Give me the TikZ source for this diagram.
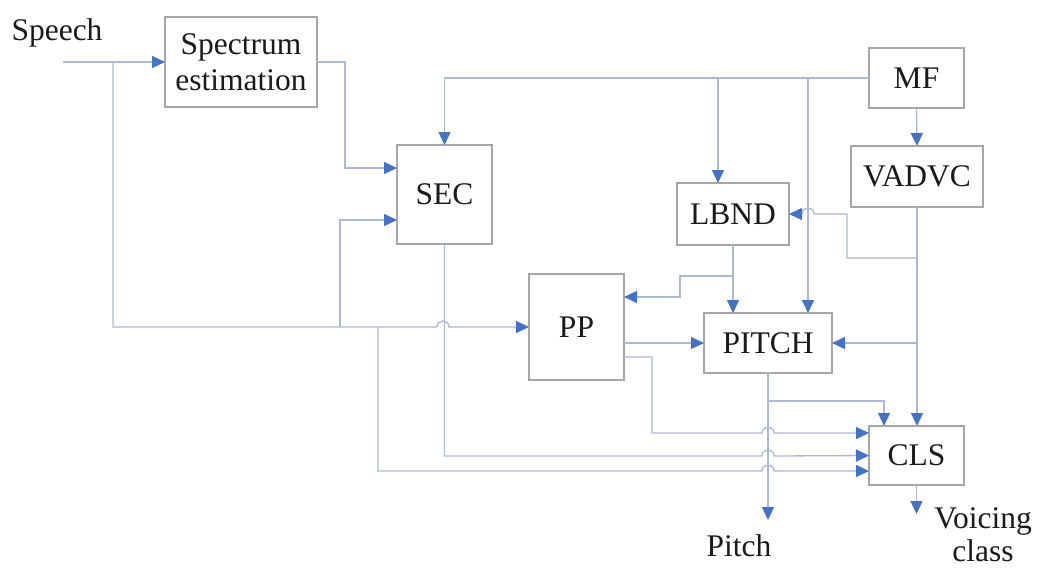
\documentclass[tikz,border=0pt]{standalone}
\usepackage{fontspec}
\setmainfont{Liberation Serif}
\usetikzlibrary{arrows.meta}
\definecolor{linecol}{HTML}{AEB8D2}
\definecolor{arrowblue}{HTML}{4472C4}
\definecolor{boxgray}{HTML}{A6A6A6}
\definecolor{txt}{HTML}{1A1A1A}
\newcommand{\fsz}{\fontsize{31.5}{36}\selectfont}
\newcommand{\fszt}{\fontsize{31.5}{33}\selectfont}
\tikzset{
  blk/.style={draw=boxgray, line width=1.4pt, fill=white, inner sep=0pt, outer sep=0pt, align=center, font=\fsz, text=txt},
  lbl/.style={inner sep=0pt, font=\fsz, text=txt},
  ln/.style={draw=linecol, line width=1.3pt},
  arr/.style={ln, -{Triangle[length=13pt,width=12pt,color=arrowblue]}},
}
\begin{document}
\begin{tikzpicture}[x=1pt,y=-1pt]
\useasboundingbox[fill=white] (0,0) rectangle (1038,568);
% blocks
\node[blk, minimum width=152pt, minimum height=90pt] (spec) at (241,62) {Spectrum\\estimation};
\node[blk, minimum width=95pt, minimum height=99pt] (SEC) at (444.5,194.5) {SEC};
\node[blk, minimum width=95pt, minimum height=60pt] (MF) at (916.5,78) {MF};
\node[blk, minimum width=132pt, minimum height=61pt] (VADVC) at (917,176.5) {VADVC};
\node[blk, minimum width=112pt, minimum height=62pt] (LBND) at (733,214) {LBND};
\node[blk, minimum width=95pt, minimum height=106pt] (PP) at (576.5,327) {PP};
\node[blk, minimum width=128pt, minimum height=60pt] (PITCH) at (768,343) {PITCH};
\node[blk, minimum width=95pt, minimum height=59pt] (CLS) at (916.5,455.5) {CLS};
% labels
\node[lbl] (speech) at (57,33) {Speech};
\node[lbl] (pitchlbl) at (739,546) {Pitch};
\node[lbl, align=center, font=\fszt] (vclbl) at (983,535) {Voicing\\class};
% junctions and free ends
\coordinate (sp) at (63,62);
\coordinate (j1) at (113,62);
\coordinate (j2) at (340,327);
\coordinate (j3) at (378,327);
\coordinate (j4) at (718,78);
\coordinate (j5) at (808,78);
\coordinate (j6) at (917,258);
\coordinate (j7) at (917,343);
\coordinate (j8) at (733,276);
\coordinate (j9) at (768,401);
\coordinate (pout) at (768,520);
\coordinate (vout) at (916.5,514);
% connectors
\draw[arr] (sp) -- (spec.west);
\draw[arr] (j1) -- (113,327) -- (437,327) .. controls (437,319) and (449,319) .. (449,327) -- (PP.west);
\draw[arr] (j2) |- ([yshift=-25.5pt]SEC.west);
\draw[arr] (j3) -- (378,471) -- (762,471) .. controls (762,463) and (774,463) .. (774,471) -- ([yshift=-15.5pt]CLS.west);
\draw[arr] (spec.east) -- ++(28,0) |- ([yshift=26.5pt]SEC.west);
\draw[arr] (MF.west) -| (SEC.north);
\draw[arr] (j4) -- (j4 |- LBND.north);
\draw[arr] (j5) -- (j5 |- PITCH.north);
\draw[arr] (MF.south) -- (VADVC.north);
\draw[arr] (VADVC.south) -- (VADVC.south |- CLS.north);
\draw[arr] (j6) -- (847,258) -- (847,214) -- (814,214) .. controls (814,206) and (802,206) .. (802,214) -- (LBND.east);
\draw[arr] (j7) -- (PITCH.east);
\draw[arr] (LBND.south) -- (LBND.south |- PITCH.north);
\draw[arr] (j8) -- (680,276) |- ([yshift=30pt]PP.east);
\draw[arr] ([yshift=-16pt]PP.east) -- (PITCH.west);
\draw[arr] ([yshift=-30pt]PP.east) -- (652,357) -- (652,433) -- (762,433) .. controls (762,425) and (774,425) .. (774,433) -- ([yshift=22.5pt]CLS.west);
\draw[arr] (SEC.south) -- (444.5,456) -- (762,456) .. controls (762,448) and (774,448) .. (774,456) -- (CLS.west);
\draw[arr] (PITCH.south) -- (pout);
\draw[arr] (j9) -| ([xshift=-32.5pt]CLS.north);
\draw[arr] (CLS.south) -- (vout);
\end{tikzpicture}
\end{document}
